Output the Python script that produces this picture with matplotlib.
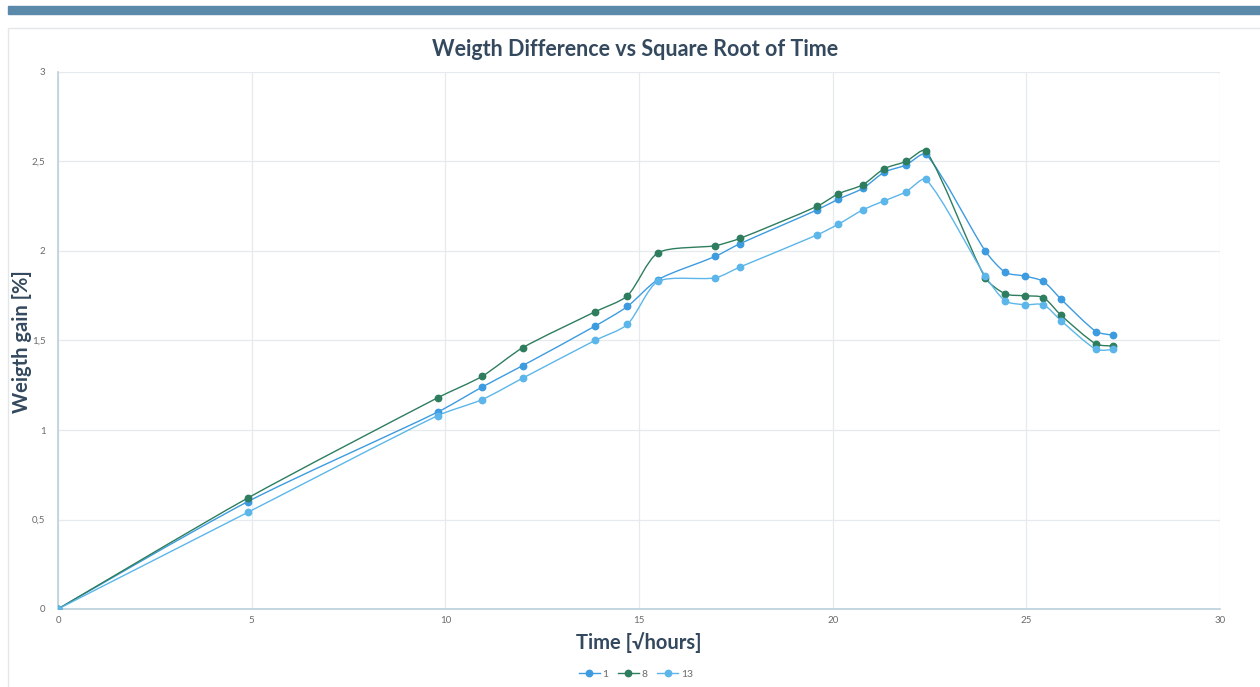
import matplotlib
matplotlib.use("Agg")
import matplotlib.pyplot as plt
from matplotlib.path import Path
from matplotlib.patches import PathPatch, Rectangle
from matplotlib.lines import Line2D
import numpy as np

# ── data ─────────────────────────────────────────────────────────
sqrt_time = [0, 4.90, 9.80, 10.95, 12.00, 13.86, 14.70, 15.49, 16.97, 17.60,
             19.60, 20.15, 20.78, 21.33, 21.89, 22.41, 23.94, 24.46, 24.96,
             25.44, 25.90, 26.80, 27.24]

gain_1 = [0, 0.60, 1.10, 1.24, 1.36, 1.58, 1.69, 1.84, 1.97, 2.04,
          2.23, 2.29, 2.35, 2.44, 2.48, 2.54, 2.00, 1.88, 1.86,
          1.83, 1.73, 1.55, 1.53]
gain_8 = [0, 0.62, 1.18, 1.30, 1.46, 1.66, 1.75, 1.99, 2.03, 2.07,
          2.25, 2.32, 2.37, 2.46, 2.50, 2.56, 1.85, 1.76, 1.75,
          1.74, 1.64, 1.48, 1.47]
gain_13 = [0, 0.54, 1.08, 1.17, 1.29, 1.50, 1.59, 1.83, 1.85, 1.91,
           2.09, 2.15, 2.23, 2.28, 2.33, 2.40, 1.86, 1.72, 1.70,
           1.70, 1.61, 1.45, 1.45]

series_names = ["1", "8", "13"]
series_vals = [gain_1, gain_8, gain_13]
series_cols = ["#3d9be0", "#2e7d5e", "#5cb6ea"]

x_ticks = [0, 5, 10, 15, 20, 25, 30]
y_ticks = [0, 0.5, 1, 1.5, 2, 2.5, 3]
y_tick_labels = ["0", "0,5", "1", "1,5", "2", "2,5", "3"]

FONT = "Lato"
TITLE_COL = "#34495e"
TICK_COL = "#6b6b6b"


def spline_path(ax, xs, ys, tension=0.25):
    """Smooth path through the points; control points are worked out in
    screen space with handles scaled by the neighbouring segment lengths."""
    pts = ax.transData.transform(np.column_stack([xs, ys]))
    n = len(pts)
    c_in = pts.copy()
    c_out = pts.copy()
    for i in range(1, n - 1):
        prev, cur, nxt = pts[i - 1], pts[i], pts[i + 1]
        d01 = np.hypot(*(cur - prev))
        d12 = np.hypot(*(nxt - cur))
        tot = d01 + d12
        if tot == 0:
            continue
        c_in[i] = cur - tension * d01 / tot * (nxt - prev)
        c_out[i] = cur + tension * d12 / tot * (nxt - prev)
    verts = [pts[0]]
    codes = [Path.MOVETO]
    for i in range(n - 1):
        verts += [c_out[i], c_in[i + 1], pts[i + 1]]
        codes += [Path.CURVE4] * 3
    verts = ax.transData.inverted().transform(np.array(verts))
    return Path(verts, codes)


fig = plt.figure(figsize=(12.6, 6.87), dpi=100)

# header band + card frame
fig.patches.append(Rectangle((8 / 1260, 1 - 14 / 687), 1, 8 / 687,
                             transform=fig.transFigure, color="#5b89aa",
                             zorder=0))
fig.patches.append(Rectangle((8 / 1260, -0.01), 1, 1 - 28 / 687 + 0.01,
                             transform=fig.transFigure, facecolor="none",
                             edgecolor="#e3e6ea", lw=1, zorder=0))

ax = fig.add_axes([58 / 1260, 78 / 687, 1162 / 1260, 537 / 687])
ax.set_xlim(0, 30)
ax.set_ylim(0, 3)

for name, vals, col in zip(series_names, series_vals, series_cols):
    ax.add_patch(PathPatch(spline_path(ax, sqrt_time, vals),
                           facecolor="none", edgecolor=col, lw=1.0,
                           zorder=3))
    ax.plot(sqrt_time, vals, ls="none", marker="o", ms=4.6, color=col,
            mec=col, zorder=4)

ax.set_xticks(x_ticks)
ax.set_yticks(y_ticks)
ax.set_yticklabels(y_tick_labels)
ax.grid(True, color="#e6e9ee", lw=0.9, zorder=0)
ax.set_axisbelow(True)
for side in ("top", "right"):
    ax.spines[side].set_visible(False)
for side in ("left", "bottom"):
    ax.spines[side].set_color("#bccfdc")
    ax.spines[side].set_linewidth(1.2)
ax.tick_params(length=0, labelsize=7, labelcolor=TICK_COL)
ax.tick_params(axis="y", pad=9)
ax.tick_params(axis="x", pad=5)
for lab in ax.get_xticklabels() + ax.get_yticklabels():
    lab.set_family(FONT)

fig.text(0.504, 1 - 50 / 687, "Weigth Difference vs Square Root of Time",
         ha="center", va="center", fontsize=15.5, fontweight="bold",
         color=TITLE_COL, family=FONT)
fig.text(639 / 1260, 1 - 643 / 687, "Time [√hours]", ha="center",
         va="center", fontsize=14.5, fontweight="bold", color=TITLE_COL,
         family=[FONT, "DejaVu Sans"])
fig.text(22 / 1260, 1 - 342 / 687, "Weigth gain [%]", ha="center",
         va="center", rotation=90, fontsize=14.5, fontweight="bold",
         color=TITLE_COL, family=FONT)

handles = [Line2D([], [], color=c, lw=1.0, marker="o", ms=4.6)
           for c in series_cols]
leg = fig.legend(handles, series_names, loc="center",
                 bbox_to_anchor=(636 / 1260, 1 - 674 / 687), ncol=3,
                 frameon=False, fontsize=7.5, handlelength=2.0,
                 handletextpad=0.3, columnspacing=0.9)
for t in leg.get_texts():
    t.set_color(TICK_COL)
    t.set_family(FONT)

fig.savefig("out.png", dpi=100)
